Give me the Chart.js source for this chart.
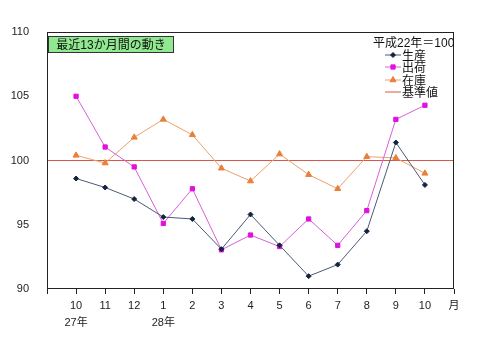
<!DOCTYPE html>
<html>
<head>
<meta charset="utf-8">
<script src="https://cdn.jsdelivr.net/npm/chart.js@4.4.1/dist/chart.umd.min.js"></script>
<style>
  body { margin: 0; background: #fff; }
  #wrap { width: 480px; height: 351px; }
</style>
</head>
<body>
<div id="wrap"><canvas id="chart" width="480" height="351"></canvas></div>
<script>
// months shown on the x axis (H27.10 - H28.10)
const months = ['10', '11', '12', '1', '2', '3', '4', '5', '6', '7', '8', '9', '10'];
const yearLabels = ['27年', '', '', '28年', '', '', '', '', '', '', '', '', ''];
const production = [98.6, 97.9, 97.0, 95.6, 95.45, 93.1, 95.8, 93.4, 91.0, 91.9, 94.5, 101.4, 98.1];
const shipments  = [105.0, 101.05, 99.5, 95.1, 97.8, 93.05, 94.2, 93.3, 95.45, 93.4, 96.1, 103.2, 104.3];
const inventory  = [100.4, 99.8, 101.8, 103.2, 102.0, 99.4, 98.4, 100.5, 98.9, 97.8, 100.3, 100.2, 99.0];
const baseValue = 100;
const yTicks = [90, 95, 100, 105, 110];

const FONT = '"Liberation Sans", "Noto Sans CJK JP", sans-serif';

// one empty slot on each side, the right one carries the unit label
const labels = [''].concat(months.map((m, i) => yearLabels[i] ? [m, yearLabels[i]] : m), ['月']);
const pad = arr => [null].concat(arr, [null]);

// frame, title box and legend drawn on top of the plot
const decor = {
  id: 'decor',
  afterDatasetsDraw(chart) {
    const ctx = chart.ctx;
    const a = chart.chartArea;
    ctx.save();
    ctx.strokeStyle = '#222';
    ctx.lineWidth = 1;
    ctx.strokeRect(a.left + 0.5, a.top + 0.5, a.right - a.left - 1, a.bottom - a.top - 1);

    // title box
    ctx.fillStyle = '#90e890';
    ctx.fillRect(48, 36, 125, 16);
    ctx.strokeStyle = '#333';
    ctx.strokeRect(48.5, 36.5, 125, 16);
    ctx.fillStyle = '#111';
    ctx.font = '12px ' + FONT;
    ctx.textAlign = 'center';
    ctx.textBaseline = 'alphabetic';
    ctx.fillText('最近13か月間の動き', 111, 49);

    // legend
    ctx.textAlign = 'left';
    ctx.fillText('平成22年＝100', 373, 47);
    const ys = [55, 67, 80, 92];
    chart.data.datasets.forEach((ds, i) => {
      const y = ys[i];
      ctx.strokeStyle = ds.borderColor;
      ctx.lineWidth = 1;
      ctx.beginPath();
      ctx.moveTo(385, y);
      ctx.lineTo(401, y);
      ctx.stroke();
      if (ds.pointRadius > 0) {
        ctx.fillStyle = ds.pointBackgroundColor;
        ctx.strokeStyle = ds.pointBorderColor;
        Chart.helpers.drawPoint(ctx, {
          pointStyle: ds.pointStyle, radius: ds.pointRadius, borderWidth: 1
        }, 393, y);
      }
      ctx.fillStyle = '#111';
      ctx.textBaseline = 'alphabetic';
      ctx.fillText(ds.label, 402, y + 4.5);
    });
    ctx.restore();
  }
};

new Chart(document.getElementById('chart').getContext('2d'), {
  type: 'line',
  data: {
    labels: labels,
    datasets: [
      {
        label: '生産', data: pad(production),
        borderColor: '#4a5a78', borderWidth: 1,
        pointStyle: 'rectRot', pointRadius: 2.5,
        pointBackgroundColor: '#14243f', pointBorderColor: '#14243f'
      },
      {
        label: '出荷', data: pad(shipments),
        borderColor: '#d95fd9', borderWidth: 1,
        pointStyle: 'rect', pointRadius: 3,
        pointBackgroundColor: '#e010e0', pointBorderColor: '#e010e0'
      },
      {
        label: '在庫', data: pad(inventory),
        borderColor: '#eda068', borderWidth: 1,
        pointStyle: 'triangle', pointRadius: 3.5,
        pointBackgroundColor: '#e8803a', pointBorderColor: '#e8803a'
      },
      {
        label: '基準値', data: labels.map(() => baseValue),
        borderColor: '#d4584c', borderWidth: 1.2,
        pointRadius: 0
      }
    ]
  },
  options: {
    responsive: false,
    animation: false,
    layout: { padding: { top: 32, right: 26, left: 0, bottom: 0 } },
    plugins: { legend: { display: false }, tooltip: { enabled: false } },
    scales: {
      x: {
        grid: { display: true, drawOnChartArea: false, drawTicks: true, tickLength: 5, color: '#222' },
        border: { display: false },
        ticks: {
          autoSkip: false, maxRotation: 0, padding: 3, color: '#222',
          font: { family: FONT, size: 11, lineHeight: 1.55 }
        },
        afterFit(scale) { scale.height = 62; }
      },
      y: {
        min: 90, max: 110,
        grid: { display: false },
        border: { display: false },
        afterBuildTicks(scale) { scale.ticks = yTicks.map(v => ({ value: v })); },
        ticks: { padding: 10, color: '#222', font: { family: FONT, size: 11 } },
        afterFit(scale) { scale.width = 47; }
      }
    }
  },
  plugins: [decor]
});
</script>
</body>
</html>
